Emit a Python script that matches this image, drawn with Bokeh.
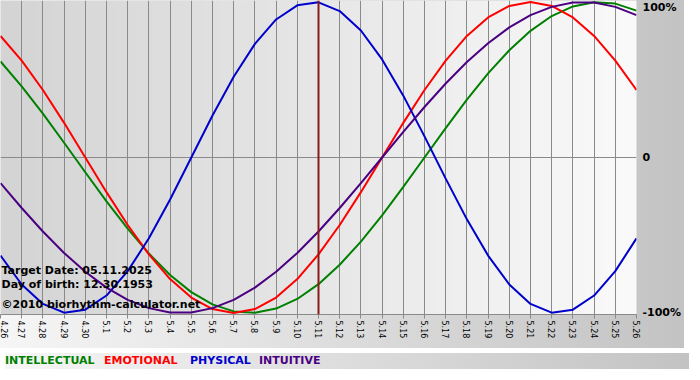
import numpy as np
from bokeh.plotting import figure
from bokeh.layouts import column
from bokeh.models import Range1d, FixedTicker, Label, Span, ColumnDataSource, LinearAxis, Div
from bokeh.embed import file_html
from bokeh.resources import INLINE

# ---- data (percent per day) ----
day_labels = ["4.26", "4.27", "4.28", "4.29", "4.30", "5.1", "5.2", "5.3", "5.4", "5.5",
              "5.6", "5.7", "5.8", "5.9", "5.10", "5.11", "5.12", "5.13", "5.14", "5.15",
              "5.16", "5.17", "5.18", "5.19", "5.20", "5.21", "5.22", "5.23", "5.24", "5.25", "5.26"]
intellectual = [61.8, 45.8, 28.2, 9.5, -9.5, -28.2, -45.8, -61.8, -75.6, -86.6, -94.5, -99.0,
                -99.9, -97.2, -91.0, -81.5, -69.0, -54.1, -37.2, -18.9, 0.0, 18.9, 37.2, 54.1,
                69.0, 81.5, 91.0, 97.2, 99.9, 99.0, 94.5]
emotional = [78.2, 62.3, 43.4, 22.3, 0.0, -22.3, -43.4, -62.3, -78.2, -90.1, -97.5, -100.0,
             -97.5, -90.1, -78.2, -62.3, -43.4, -22.3, 0.0, 22.3, 43.4, 62.3, 78.2, 90.1,
             97.5, 100.0, 97.5, 90.1, 78.2, 62.3, 43.4]
physical = [-63.1, -81.7, -94.2, -99.8, -97.9, -88.8, -73.1, -52.0, -27.0, 0.0, 27.0, 52.0,
            73.1, 88.8, 97.9, 99.8, 94.2, 81.7, 63.1, 39.8, 13.6, -13.6, -39.8, -63.1,
            -81.7, -94.2, -99.8, -97.9, -88.8, -73.1, -52.0]
intuitive = [-16.5, -32.5, -47.6, -61.4, -73.5, -83.7, -91.6, -96.9, -99.7, -99.7, -96.9, -91.6,
             -83.7, -73.5, -61.4, -47.6, -32.5, -16.5, 0.0, 16.5, 32.5, 47.6, 61.4, 73.5,
             83.7, 91.6, 96.9, 99.7, 99.7, 96.9, 91.6]
target_day = "5.11"
info_lines = ["Target Date: 05.11.2025", "Day of birth: 12.30.1953", "\u00a92010 biorhythm-calculator.net"]
series_names = ["INTELLECTUAL", "EMOTIONAL", "PHYSICAL", "INTUITIVE"]
y_tick_labels = ["100%", "0", "-100%"]

# ---- styles ----
colors = ["#008000", "#ff0000", "#0000cc", "#4b0082"]
FONT = "DejaVu Sans"
GRID = "#8a8a8a"
BG = "linear-gradient(to right, #f6f6f6 0%, #c3c3c3 100%)"

n = len(day_labels)
xs = list(range(n))

p = figure(width=684, height=348, output_backend="svg", toolbar_location=None,
           x_range=Range1d(0, n - 1), y_range=Range1d(-101, 101),
           min_border_left=0, min_border_right=46, min_border_top=0, min_border_bottom=34)
p.border_fill_color = None
p.background_fill_color = "#e8e8e8"
p.outline_line_color = None
p.styles = {"background": BG}
p.yaxis.visible = False

# plot-area gradient background
cols = 256
g = np.linspace(0xd4, 0xfa, cols).astype(np.uint32)
img = np.zeros((1, cols), dtype=np.uint32)
img[0, :] = (0xFF << 24) | (g << 16) | (g << 8) | g
bg = p.image_rgba(image=[img], x=0, y=-101, dw=n - 1, dh=202)
bg.level = "image"

# grid
p.xgrid.ticker = FixedTicker(ticks=xs)
p.xgrid.grid_line_color = GRID
p.xgrid.grid_line_alpha = 1.0
p.ygrid.ticker = FixedTicker(ticks=[0])
p.ygrid.grid_line_color = GRID
p.ygrid.grid_line_alpha = 1.0

# bottom axis
ax = p.xaxis[0]
ax.ticker = FixedTicker(ticks=xs)
ax.major_label_overrides = {i: lab for i, lab in enumerate(day_labels)}
ax.major_label_orientation = -np.pi / 2
ax.major_label_text_font = FONT
ax.major_label_text_font_size = "8px"
ax.major_label_text_color = "black"
ax.major_label_standoff = 2
ax.major_tick_out = 4
ax.major_tick_in = 0
ax.minor_tick_line_color = None
ax.major_tick_line_color = GRID
ax.axis_line_color = GRID

# right axis with percentage labels (top label sits just inside the top edge)
rticks = [96.5, 0, -100]
rax = LinearAxis(ticker=FixedTicker(ticks=rticks),
                 major_label_overrides={t: lab for t, lab in zip(rticks, y_tick_labels)})
rax.major_label_text_font = FONT
rax.major_label_text_font_size = "11px"
rax.major_label_text_font_style = "bold"
rax.major_label_text_color = "black"
rax.major_label_standoff = 6
rax.major_tick_out = 0
rax.major_tick_in = 0
rax.minor_tick_out = 0
rax.minor_tick_in = 0
rax.major_tick_line_color = None
rax.minor_tick_line_color = None
rax.axis_line_color = None
p.add_layout(rax, "right")

# curves
for vals, col in zip([intellectual, emotional, physical, intuitive], colors):
    src = ColumnDataSource(dict(x=xs, y=vals))
    p.line("x", "y", source=src, line_color=col, line_width=2)

# target day marker
p.add_layout(Span(location=day_labels.index(target_day), dimension="height",
                  line_color="#8b1a1a", line_width=2))

# info text inside plot
for txt, off in zip(info_lines, [44, 30, 10]):
    p.add_layout(Label(x=0, y=-101, text=txt, x_offset=1, y_offset=off,
                       text_font=FONT, text_font_size="11px", text_font_style="bold",
                       text_color="black", text_align="left", text_baseline="alphabetic"))

# legend row below the chart
spans = "".join(
    f'<span style="position:absolute;left:{xo}px;top:1px;color:{col}">{name}</span>'
    for name, col, xo in zip(series_names, colors, [0, 99, 185, 254]))
legend = Div(text=f'<div style="position:relative;height:16px;">{spans}</div>',
             width=684, height=16,
             styles={"background": BG, "font-family": FONT, "font-size": "11px",
                     "font-weight": "bold", "line-height": "13px"})

layout = column(p, legend, spacing=0)
open("out.html", "w").write(file_html(layout, INLINE))
